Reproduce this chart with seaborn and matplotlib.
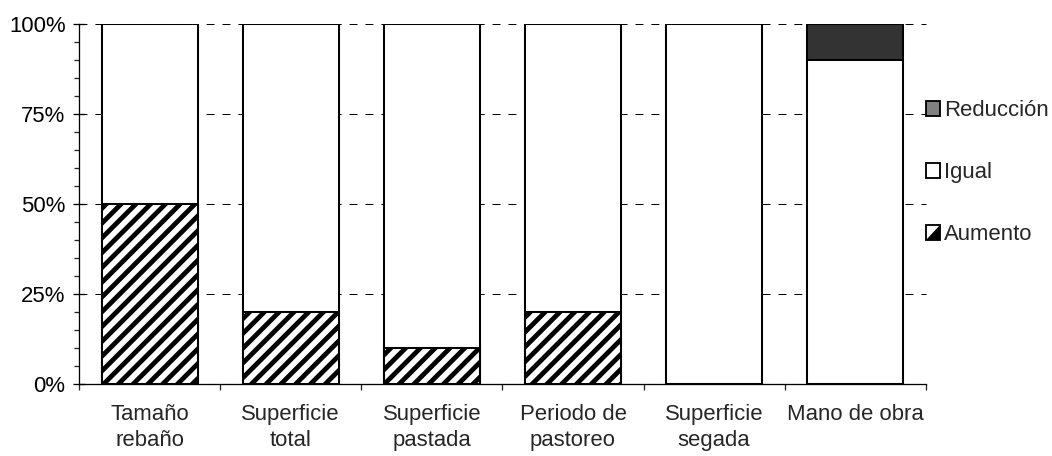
import matplotlib
matplotlib.use("Agg")
import matplotlib.pyplot as plt
import matplotlib.patches as mpatches
from matplotlib.legend_handler import HandlerBase
from matplotlib.ticker import FixedLocator, MultipleLocator, PercentFormatter
import seaborn as sns

# Data (percent of farms)
categories = ["Tamaño\nrebaño", "Superficie\ntotal", "Superficie\npastada",
              "Periodo de\npastoreo", "Superficie\nsegada", "Mano de obra"]
aumento = [50, 20, 10, 20, 0, 0]
igual = [50, 80, 90, 80, 100, 90]
reduccion = [0, 0, 0, 0, 0, 10]
legend_labels = ["Reducción", "Igual", "Aumento"]
y_ticks = [0, 25, 50, 75, 100]

DPI = 133
FS = 12
sns.set_style("ticks")
plt.rcParams["font.family"] = ["Liberation Sans", "DejaVu Sans"]
plt.rcParams["hatch.linewidth"] = 2.6
plt.rcParams["lines.scale_dashes"] = False

fig = plt.figure(figsize=(1052 / DPI, 456 / DPI), dpi=DPI)
ax = fig.add_axes([0.0751, 0.158, 0.805, 0.789])

# stacked layers: draw cumulative totals from top to bottom
top_total = [a + b + c for a, b, c in zip(aumento, igual, reduccion)]
mid_total = [a + b for a, b in zip(aumento, igual)]

bar_kw = dict(width=0.68, edgecolor="black", linewidth=1.1, saturation=1, ax=ax)
sns.barplot(x=categories, y=top_total, color="#333333", **bar_kw)
sns.barplot(x=categories, y=mid_total, color="white", **bar_kw)
sns.barplot(x=categories, y=aumento, color="white", **bar_kw)
for bar in ax.containers[-1]:
    bar.set_hatch("///")

ax.set_xlim(-0.5, len(categories) - 0.5)
ax.set_ylim(0, 100)

# y axis
ax.yaxis.set_major_locator(FixedLocator(y_ticks))
ax.yaxis.set_minor_locator(MultipleLocator(5))
ax.yaxis.set_major_formatter(PercentFormatter(decimals=0))
ax.tick_params(axis="y", which="major", direction="inout", length=6.5,
               width=0.7, labelsize=FS, pad=4, colors="black")
ax.tick_params(axis="y", which="minor", direction="out", length=2.7, width=0.7)

# x axis: separators between categories
ax.xaxis.set_minor_locator(FixedLocator([i - 0.5 for i in range(len(categories) + 1)]))
ax.tick_params(axis="x", which="major", length=0, labelsize=FS, pad=11)
ax.tick_params(axis="x", which="minor", direction="out", length=3, width=0.7)
for lbl in ax.get_xticklabels():
    lbl.set_linespacing(1.3)

ax.set_xlabel("")
ax.set_ylabel("")

for side in ("top", "right"):
    ax.spines[side].set_visible(False)
for side in ("left", "bottom"):
    ax.spines[side].set_linewidth(0.7)
    ax.spines[side].set_color("black")

ax.yaxis.grid(True, which="major", color="black", linewidth=0.55,
              linestyle=(0, (4.3, 4.3)))
ax.set_axisbelow(True)
for line in ax.get_ygridlines():
    line.set_clip_on(False)


class HalfHatchHandler(HandlerBase):
    """Legend key: white square with its lower-right half filled black."""

    def create_artists(self, legend, orig_handle, xdescent, ydescent,
                       width, height, fontsize, trans):
        x0, y0 = -xdescent, -ydescent
        tri = mpatches.Polygon([[x0, y0], [x0 + width, y0], [x0 + width, y0 + height]],
                               closed=True, facecolor="black", edgecolor="none",
                               transform=trans)
        box = mpatches.Rectangle((x0, y0), width, height, facecolor="none",
                                 edgecolor="black", linewidth=1.0, transform=trans)
        return [tri, box]


handles = [
    mpatches.Patch(facecolor="#808080", edgecolor="black", linewidth=1.0),
    mpatches.Patch(facecolor="white", edgecolor="black", linewidth=1.0),
    mpatches.Patch(facecolor="white", edgecolor="black", linewidth=1.0, hatch="//"),
]
fig.legend(handles, legend_labels, loc="upper left", bbox_to_anchor=(0.872, 0.8),
           frameon=False, fontsize=FS, handlelength=0.63, handleheight=0.63,
           handletextpad=0.18, labelspacing=1.85, borderaxespad=0,
           handler_map={handles[2]: HalfHatchHandler()})

fig.savefig("out.png", dpi=DPI)
